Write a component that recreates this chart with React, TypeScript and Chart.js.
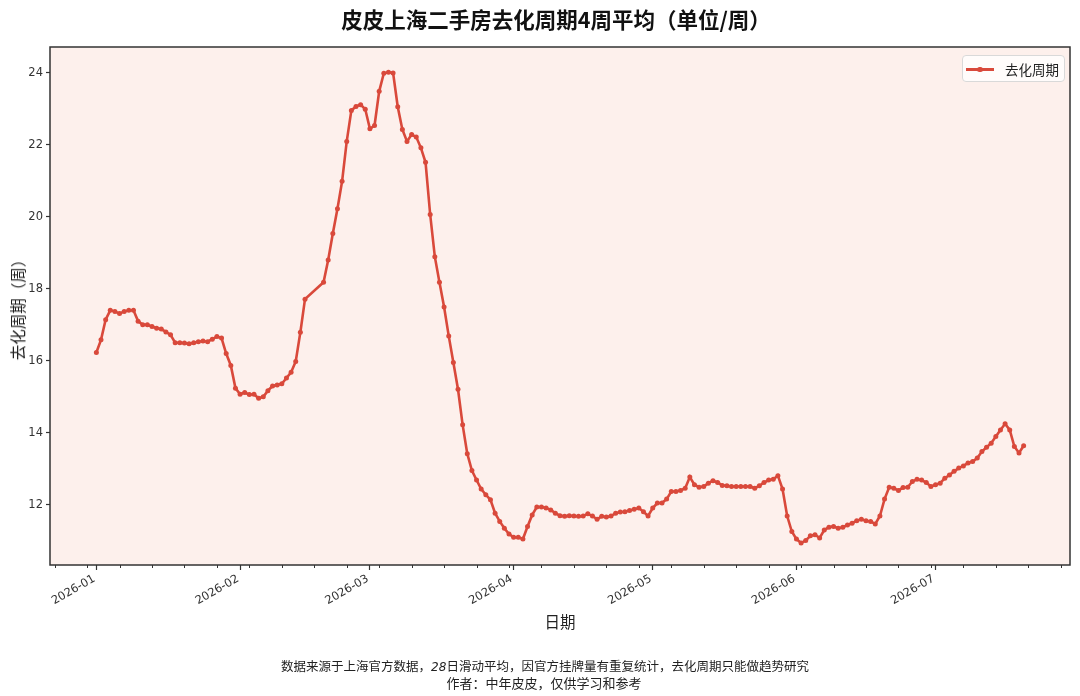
import React, { useEffect, useRef } from "react";
import { Chart, registerables } from "chart.js";

Chart.register(...registerables);

const TITLE = "皮皮上海二手房去化周期4周平均（单位/周）";
const SERIES_NAME = "去化周期";
const Y_LABEL = "去化周期（周）";
const X_LABEL = "日期";
const NOTE_A = "数据来源于上海官方数据，";
const NOTE_NUM = "28";
const NOTE_B = "日滑动平均，因官方挂牌量有重复统计，去化周期只能做趋势研究";
const NOTE_2 = "作者：中年皮皮，仅供学习和参考";

const DATES = [
  "2026-01-01", "2026-01-02", "2026-01-03", "2026-01-04", "2026-01-05", "2026-01-06", "2026-01-07", "2026-01-08", "2026-01-09", "2026-01-10",
  "2026-01-11", "2026-01-12", "2026-01-13", "2026-01-14", "2026-01-15", "2026-01-16", "2026-01-17", "2026-01-18", "2026-01-19", "2026-01-20",
  "2026-01-21", "2026-01-22", "2026-01-23", "2026-01-24", "2026-01-25", "2026-01-26", "2026-01-27", "2026-01-28", "2026-01-29", "2026-01-30",
  "2026-01-31",
  "2026-02-01", "2026-02-02", "2026-02-03", "2026-02-04", "2026-02-05", "2026-02-06", "2026-02-07", "2026-02-08", "2026-02-09", "2026-02-10",
  "2026-02-11", "2026-02-12", "2026-02-13", "2026-02-14", "2026-02-15",
  "2026-02-19", "2026-02-20", "2026-02-21", "2026-02-22", "2026-02-23", "2026-02-24", "2026-02-25", "2026-02-26", "2026-02-27", "2026-02-28",
  "2026-03-01", "2026-03-02", "2026-03-03", "2026-03-04", "2026-03-05", "2026-03-06", "2026-03-07", "2026-03-08", "2026-03-09", "2026-03-10",
  "2026-03-11", "2026-03-12", "2026-03-13", "2026-03-14", "2026-03-15", "2026-03-16", "2026-03-17", "2026-03-18", "2026-03-19", "2026-03-20",
  "2026-03-21", "2026-03-22", "2026-03-23", "2026-03-24", "2026-03-25", "2026-03-26", "2026-03-27", "2026-03-28", "2026-03-29", "2026-03-30",
  "2026-03-31",
  "2026-04-01", "2026-04-02", "2026-04-03", "2026-04-04", "2026-04-05", "2026-04-06", "2026-04-07", "2026-04-08", "2026-04-09", "2026-04-10",
  "2026-04-11", "2026-04-12", "2026-04-13", "2026-04-14", "2026-04-15", "2026-04-16", "2026-04-17", "2026-04-18", "2026-04-19", "2026-04-20",
  "2026-04-21", "2026-04-22", "2026-04-23", "2026-04-24", "2026-04-25", "2026-04-26", "2026-04-27", "2026-04-28", "2026-04-29", "2026-04-30",
  "2026-05-01", "2026-05-02", "2026-05-03", "2026-05-04", "2026-05-05", "2026-05-06", "2026-05-07", "2026-05-08", "2026-05-09", "2026-05-10",
  "2026-05-11", "2026-05-12", "2026-05-13", "2026-05-14", "2026-05-15", "2026-05-16", "2026-05-17", "2026-05-18", "2026-05-19", "2026-05-20",
  "2026-05-21", "2026-05-22", "2026-05-23", "2026-05-24", "2026-05-25", "2026-05-26", "2026-05-27", "2026-05-28", "2026-05-29", "2026-05-30",
  "2026-05-31",
  "2026-06-01", "2026-06-02", "2026-06-03", "2026-06-04", "2026-06-05", "2026-06-06", "2026-06-07", "2026-06-08", "2026-06-09", "2026-06-10",
  "2026-06-11", "2026-06-12", "2026-06-13", "2026-06-14", "2026-06-15", "2026-06-16", "2026-06-17", "2026-06-18", "2026-06-19", "2026-06-20",
  "2026-06-21", "2026-06-22", "2026-06-23", "2026-06-24", "2026-06-25", "2026-06-26", "2026-06-27", "2026-06-28", "2026-06-29", "2026-06-30",
  "2026-07-01", "2026-07-02", "2026-07-03", "2026-07-04", "2026-07-05", "2026-07-06", "2026-07-07", "2026-07-08", "2026-07-09", "2026-07-10",
  "2026-07-11", "2026-07-12", "2026-07-13", "2026-07-14", "2026-07-15", "2026-07-16", "2026-07-17", "2026-07-18", "2026-07-19", "2026-07-20",
];

const VALUES = [
  // Jan
  16.23, 16.58, 17.14, 17.40, 17.37, 17.31, 17.37, 17.40, 17.40, 17.10,
  17.00, 17.00, 16.95, 16.90, 16.88, 16.80, 16.72, 16.50, 16.50, 16.49,
  16.47, 16.50, 16.53, 16.55, 16.53, 16.60, 16.67, 16.63, 16.20, 15.87,
  15.24,
  // Feb 1-15
  15.07, 15.12, 15.06, 15.07, 14.96, 15.00, 15.17, 15.30, 15.33, 15.36,
  15.52, 15.68, 15.98, 16.79, 17.71,
  // Feb 19-28
  18.18, 18.80, 19.53, 20.22, 20.98, 22.09, 22.95, 23.06, 23.11, 22.98,
  // Mar
  22.44, 22.53, 23.48, 23.98, 24.01, 23.99, 23.05, 22.42, 22.09, 22.28,
  22.21, 21.91, 21.51, 20.06, 18.89, 18.18, 17.49, 16.69, 15.95, 15.21,
  14.22, 13.42, 12.95, 12.69, 12.44, 12.28, 12.14, 11.77, 11.54, 11.35,
  11.19,
  // Apr
  11.10, 11.10, 11.05, 11.40, 11.72, 11.94, 11.94, 11.91, 11.86, 11.77,
  11.70, 11.68, 11.70, 11.69, 11.68, 11.69, 11.75, 11.69, 11.60, 11.68,
  11.66, 11.69, 11.77, 11.80, 11.81, 11.84, 11.88, 11.91, 11.81, 11.69,
  // May
  11.91, 12.05, 12.05, 12.16, 12.37, 12.37, 12.40, 12.46, 12.77, 12.56,
  12.49, 12.51, 12.60, 12.67, 12.62, 12.54, 12.53, 12.51, 12.51, 12.51,
  12.51, 12.51, 12.46, 12.53, 12.62, 12.69, 12.71, 12.81, 12.44, 11.69,
  11.26,
  // Jun
  11.05, 10.94, 11.01, 11.14, 11.17, 11.08, 11.30, 11.38, 11.40, 11.35,
  11.38, 11.44, 11.49, 11.56, 11.60, 11.56, 11.54, 11.47, 11.69, 12.16,
  12.49, 12.46, 12.40, 12.48, 12.49, 12.65, 12.71, 12.69, 12.62, 12.51,
  // Jul
  12.56, 12.60, 12.74, 12.83, 12.93, 13.02, 13.08, 13.16, 13.20, 13.30,
  13.48, 13.60, 13.71, 13.90, 14.08, 14.25, 14.08, 13.62, 13.44, 13.64,
];

const MONTH_TICKS = ["2026-01-01", "2026-02-01", "2026-03-01", "2026-04-01", "2026-05-01", "2026-06-01", "2026-07-01"];
const MONTH_LABELS = ["2026-01", "2026-02", "2026-03", "2026-04", "2026-05", "2026-06", "2026-07"];
const Y_TICKS = [12, 14, 16, 18, 20, 22, 24];
const X_START = "2025-12-22";
const X_END = "2026-07-30";
const Y_MIN = 10.33;
const Y_MAX = 24.71;
const MINOR_FIRST = "2025-12-23";

const BASE = Date.UTC(2026, 0, 1);
function dayOffset(s: string): number {
  const [y, m, d] = s.split("-").map(Number);
  return (Date.UTC(y, m - 1, d) - BASE) / 86400000;
}

const LINE_COLOR = "#d9493b";
const PLOT_BG = "#fdf0ec";
const FRAME = "#333333";
const CJK = '"Noto Sans CJK SC", "Noto Sans", sans-serif';
const TICK_FONT = '"DejaVu Sans", sans-serif';

export default function App() {
  const ref = useRef<HTMLCanvasElement>(null);

  useEffect(() => {
    const canvas = ref.current;
    if (!canvas) return;
    const points = DATES.map((d, i) => ({ x: dayOffset(d), y: VALUES[i] }));

    const framePlugin = {
      id: "frameAndBg",
      beforeDraw(chart: any) {
        const { ctx, chartArea: a } = chart;
        ctx.save();
        ctx.fillStyle = PLOT_BG;
        ctx.fillRect(a.left, a.top, a.right - a.left, a.bottom - a.top);
        ctx.restore();
      },
      afterDraw(chart: any) {
        const { ctx, chartArea: a, scales } = chart;
        ctx.save();
        ctx.strokeStyle = FRAME;
        ctx.lineWidth = 1.5;
        ctx.strokeRect(a.left, a.top, a.right - a.left, a.bottom - a.top);
        // minor weekly ticks
        ctx.lineWidth = 1;
        const xs = scales.x;
        const endDay = dayOffset(X_END);
        for (let d = dayOffset(MINOR_FIRST); d <= endDay; d += 7) {
          const px = Math.round(xs.getPixelForValue(d)) + 0.5;
          ctx.beginPath();
          ctx.moveTo(px, a.bottom);
          ctx.lineTo(px, a.bottom + 3);
          ctx.stroke();
        }
        ctx.restore();
      },
    };

    const chart = new Chart(canvas, {
      type: "line",
      data: {
        datasets: [
          {
            label: SERIES_NAME,
            data: points,
            borderColor: LINE_COLOR,
            backgroundColor: LINE_COLOR,
            borderWidth: 2.6,
            pointRadius: 2.5,
            pointBorderWidth: 0,
            pointBackgroundColor: LINE_COLOR,
            tension: 0,
          },
        ],
      },
      options: {
        animation: false,
        responsive: false,
        events: [],
        layout: { padding: { top: 47, right: 10, bottom: 0, left: 0 } },
        plugins: {
          legend: { display: false },
          tooltip: { enabled: false },
        },
        scales: {
          x: {
            type: "linear",
            min: dayOffset(X_START),
            max: dayOffset(X_END),
            afterBuildTicks: (scale: any) => {
              scale.ticks = MONTH_TICKS.map((d) => ({ value: dayOffset(d) }));
            },
            afterFit: (scale: any) => {
              scale.height = 131;
            },
            border: { display: false },
            grid: {
              drawOnChartArea: false,
              drawTicks: true,
              tickLength: 5,
              tickColor: FRAME,
              tickWidth: 1.2,
            },
            ticks: {
              autoSkip: false,
              maxRotation: 30,
              minRotation: 30,
              padding: 2,
              labelOffset: -2,
              color: "#333",
              font: { family: TICK_FONT, size: 11.5 },
              callback: (_v: any, i: number) => MONTH_LABELS[i],
            },
          },
          y: {
            type: "linear",
            min: Y_MIN,
            max: Y_MAX,
            afterBuildTicks: (scale: any) => {
              scale.ticks = Y_TICKS.map((v) => ({ value: v }));
            },
            afterFit: (scale: any) => {
              scale.width = 50;
            },
            border: { display: false },
            grid: {
              drawOnChartArea: false,
              drawTicks: true,
              tickLength: 4,
              tickColor: FRAME,
              tickWidth: 1.2,
            },
            ticks: {
              padding: 3,
              color: "#333",
              font: { family: TICK_FONT, size: 11.5 },
              callback: (v: any) => String(v),
            },
          },
        },
      },
      plugins: [framePlugin],
    } as any);

    return () => chart.destroy();
  }, []);

  const abs: React.CSSProperties = { position: "absolute", whiteSpace: "nowrap" };

  return (
    <div style={{ position: "absolute", left: 0, top: 0, width: 1080, height: 696, background: "#fff", overflow: "hidden" }}>
      <canvas ref={ref} width={1080} height={696} style={{ position: "absolute", left: 0, top: 0, width: 1080, height: 696 }} />
      <div style={{ ...abs, left: 556, top: 18, transform: "translate(-50%, -50%)", fontFamily: CJK, fontWeight: 700, fontSize: 21.5, color: "#111" }}>
        {TITLE}
      </div>
      <div style={{ ...abs, left: 17, top: 306, transform: "translate(-50%, -50%) rotate(-90deg)", fontFamily: CJK, fontSize: 15.5, color: "#222" }}>
        {Y_LABEL}
      </div>
      <div style={{ ...abs, left: 560, top: 621, transform: "translate(-50%, -50%)", fontFamily: CJK, fontSize: 15.5, color: "#222" }}>
        {X_LABEL}
      </div>
      <div style={{ ...abs, left: 545, top: 665, transform: "translate(-50%, -50%)", fontFamily: CJK, fontSize: 12.5, color: "#222" }}>
        {NOTE_A}
        <span style={{ fontStyle: "italic", fontFamily: TICK_FONT, fontSize: 12 }}>{NOTE_NUM}</span>
        {NOTE_B}
      </div>
      <div style={{ ...abs, left: 544, top: 682, transform: "translate(-50%, -50%)", fontFamily: CJK, fontSize: 13, color: "#222" }}>
        {NOTE_2}
      </div>
      <div
        style={{
          position: "absolute",
          left: 962,
          top: 55,
          width: 103,
          height: 27,
          boxSizing: "border-box",
          border: "1px solid #d9d9d9",
          borderRadius: 4,
          background: "rgba(255,255,255,0.8)",
        }}
      >
        <div style={{ position: "absolute", left: 3, top: 12, width: 28, height: 2.5, background: LINE_COLOR }} />
        <div style={{ position: "absolute", left: 14, top: 10.5, width: 5.5, height: 5.5, borderRadius: "50%", background: LINE_COLOR }} />
        <div style={{ ...abs, left: 42, top: 13, transform: "translateY(-50%)", fontFamily: CJK, fontSize: 13.5, color: "#222" }}>
          {SERIES_NAME}
        </div>
      </div>
    </div>
  );
}
